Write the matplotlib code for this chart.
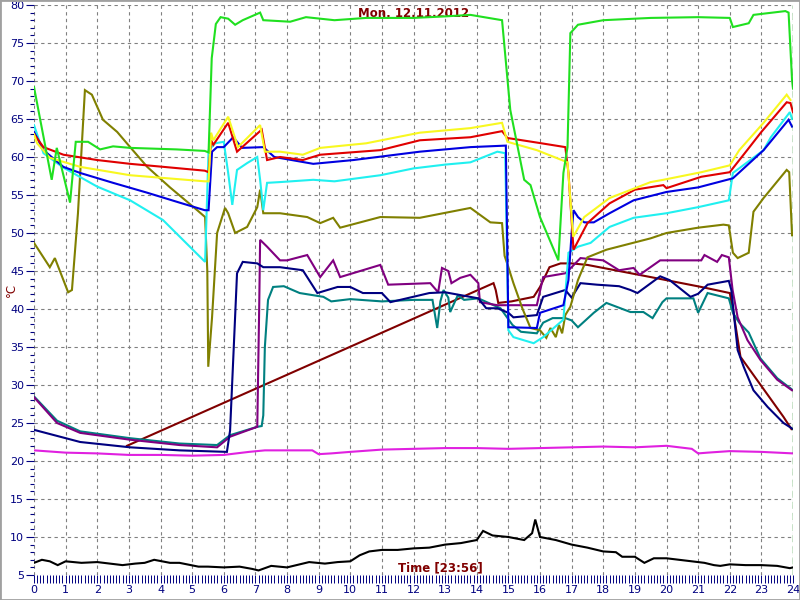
import matplotlib
matplotlib.use("Agg")
import matplotlib.pyplot as plt
from matplotlib.ticker import MultipleLocator
from matplotlib.patches import Rectangle

# --- data (hour, degC) ---
green = [(0, 69.2), (0.56, 57), (0.72, 61.2), (1.14, 54), (1.32, 62), (1.71, 62), (2.09, 61),
         (2.5, 61.4), (3.04, 61.2), (4.5, 61), (5.4, 60.8), (5.52, 60.6), (5.62, 73), (5.75, 77.5),
         (5.9, 78.4), (6.14, 78.2), (6.36, 77.4), (6.6, 78), (7.15, 79), (7.25, 78), (8.1, 77.8),
         (8.6, 78.4), (9.5, 78.0), (10.5, 78.3), (12.0, 78.3), (13.0, 78.5), (13.8, 78.7),
         (14.8, 78.0), (15.06, 66.2), (15.5, 57), (15.7, 56.3), (16.0, 52.1), (16.58, 46.4),
         (16.74, 57.9), (16.87, 61.3), (16.96, 76.3), (17.2, 77.4), (18.0, 78), (19.5, 78.3),
         (21.0, 78.4), (22.0, 78.3), (22.1, 77.1), (22.6, 77.6), (22.75, 78.7), (23.76, 79.2),
         (23.86, 79.0), (23.97, 70.1), (24.0, 69)]

red = [(0, 63), (0.3, 61.3), (0.93, 60.3), (2, 59.6), (3.04, 59.1), (4.1, 58.7), (5.4, 58.2),
       (5.52, 58.0), (5.6, 62.2), (5.67, 61.6), (6.14, 64.5), (6.42, 60.7), (7.2, 63.6),
       (7.37, 59.6), (7.78, 60), (8.5, 59.6), (9.05, 60.3), (9.68, 60.5), (10.95, 60.9),
       (12.2, 62.2), (13.8, 62.6), (14.8, 63.4), (14.97, 62.5), (15.9, 61.9), (16.8, 61.3),
       (16.9, 57.9), (17.06, 47.8), (17.5, 51.3), (18.2, 53.9), (19.0, 55.7), (19.9, 56.3),
       (20.0, 55.9), (21.1, 57.4), (22.0, 58), (22.55, 60.9), (23.0, 63.3), (23.8, 67.2),
       (23.92, 67.1), (24.0, 65.9)]

yellow = [(0, 63), (0.1, 61.8), (0.5, 59.9), (1.46, 58.7), (3.04, 57.6), (5.4, 56.8), (5.52, 56.8),
          (5.6, 63.2), (5.67, 62.2), (6.14, 65.3), (6.45, 61.3), (7.15, 64.2), (7.3, 60.7),
          (7.78, 60.7), (8.5, 60.3), (9.05, 61.2), (10.5, 61.8), (12.2, 63.2), (13.8, 63.8),
          (14.8, 64.5), (14.97, 62), (15.9, 60.9), (16.87, 59.3), (17.05, 49.5), (17.4, 52.1),
          (18.2, 54.6), (19.5, 56.7), (19.9, 57), (21.1, 58), (22.0, 58.9), (22.3, 60.9),
          (23.07, 64.5), (23.8, 68.2), (23.92, 67.5)]

blue = [(0, 63.3), (0.3, 60.9), (0.93, 58.7), (1.46, 57.9), (2.5, 56.6), (3.58, 55.3), (4.6, 54),
        (5.4, 53), (5.52, 53), (5.63, 60.7), (5.79, 61.3), (6.0, 61.3), (6.3, 62.6), (6.58, 61.2),
        (7.25, 61.3), (7.6, 60), (8.83, 59.1), (10.1, 59.6), (12.2, 60.7), (13.8, 61.3),
        (14.92, 61.5), (15.0, 37.6), (15.9, 37.5), (16.0, 39.5), (16.74, 40.5), (16.9, 43.8),
        (17.0, 50), (17.06, 53), (17.2, 52.1), (17.4, 51.4), (17.7, 51.4), (18.2, 52.6),
        (18.96, 54.3), (20.0, 55.4), (21.0, 56), (22.1, 57.2), (23.07, 60.9), (23.86, 64.9),
        (23.97, 64)]

cyan = [(0, 64.2), (0.3, 60.5), (0.93, 58.6), (2, 56.1), (3.04, 54.3), (4.08, 51.7), (5.41, 46.2),
        (5.52, 60.9), (5.73, 61.8), (6.0, 62), (6.14, 57.9), (6.27, 53.7), (6.42, 58.3),
        (6.74, 59.2), (7.06, 60), (7.15, 57), (7.25, 53), (7.37, 56.6), (7.78, 56.7), (8.83, 57),
        (9.5, 56.8), (10.95, 57.6), (12.0, 58.5), (13.0, 59.0), (13.8, 59.3), (14.65, 60.7),
        (14.9, 60.5), (15.0, 37.2), (15.16, 36.3), (15.8, 35.5), (16.1, 36.3), (16.74, 38.6),
        (16.9, 47.4), (17.2, 48.2), (17.6, 48.7), (18.2, 50.8), (18.96, 52), (20.0, 52.6),
        (21.0, 53.4), (21.97, 54.3), (22.1, 57.9), (23.07, 60.9), (23.3, 62.6), (23.9, 65.9),
        (23.97, 65)]

olive = [(0, 48.7), (0.5, 45.5), (0.66, 46.7), (1.08, 42.2), (1.2, 42.5), (1.39, 52.6),
         (1.61, 68.8), (1.83, 68.2), (2.18, 64.9), (2.63, 63.3), (3.04, 61.3), (3.58, 58.7),
         (4.3, 56), (5.16, 53), (5.41, 52.1), (5.48, 45), (5.51, 32.4), (5.63, 38.9), (5.79, 50),
         (6.04, 53.3), (6.14, 52.6), (6.36, 50), (6.74, 50.8), (7.06, 53.4), (7.15, 55.7),
         (7.25, 52.6), (7.78, 52.6), (8.64, 52.1), (9.05, 51.3), (9.46, 52), (9.68, 50.7),
         (10.95, 52.1), (12.2, 52), (13.8, 53.3), (14.43, 51.4), (14.8, 51.3), (14.88, 47),
         (15.0, 45.5), (15.16, 43.4), (15.45, 40), (15.7, 37.5), (16.0, 37.2), (16.2, 36.2),
         (16.33, 37.5), (16.5, 36.3), (16.6, 37.9), (16.7, 36.8), (16.8, 39.2), (16.96, 40.3),
         (17.2, 43.8), (17.5, 46.8), (18.1, 47.8), (19.5, 49.3), (20.0, 50), (21.0, 50.7),
         (21.8, 51.1), (21.97, 51), (22.1, 47.4), (22.25, 46.7), (22.6, 47.4), (22.75, 52.8),
         (23.07, 54.6), (23.8, 58.3), (23.88, 58), (23.97, 49.7)]

purple = [(0, 28.4), (0.73, 25), (1.46, 23.7), (3.04, 22.8), (4.6, 22.1), (5.79, 21.8), (6.2, 23.2),
          (7.06, 24.5), (7.12, 40), (7.15, 49.1), (7.37, 48.2), (7.78, 46.4), (8.0, 46.4),
          (8.64, 47.1), (9.05, 44.2), (9.46, 46.4), (9.68, 44.2), (10.95, 45.8), (11.2, 43.2),
          (12.53, 43.4), (12.78, 42.2), (12.9, 45.4), (13.1, 45), (13.2, 43.4), (13.48, 44.1),
          (13.8, 44.5), (14.05, 43.4), (14.1, 40.9), (14.65, 40.5), (15.9, 40.5), (16.1, 44.2),
          (16.8, 44.7), (17.0, 45.5), (17.28, 46.7), (18.0, 46.4), (18.5, 45.1), (18.96, 45.4),
          (19.15, 44.5), (19.8, 46.4), (21.1, 46.4), (21.2, 47.1), (21.6, 46.2), (21.75, 47.1),
          (21.97, 46.8), (22.09, 42.5), (22.25, 38.9), (22.56, 35.9), (22.97, 33.3), (23.5, 30.7),
          (23.97, 29.3)]

navy = [(0, 24.1), (1.46, 22.5), (3.04, 21.8), (4.6, 21.4), (6.1, 21.2), (6.2, 24), (6.42, 44.7),
        (6.6, 46.2), (7.06, 46), (7.25, 45.5), (7.78, 45.5), (8.5, 45.1), (8.96, 42.1),
        (9.6, 42.9), (10.0, 42.9), (10.4, 42.1), (11.0, 42.1), (11.27, 40.9), (12.5, 42.1),
        (13.0, 42.2), (14.05, 41.4), (14.3, 40.1), (14.65, 40.1), (15.0, 39.5), (15.16, 38.9),
        (15.9, 39.2), (16.1, 41.6), (16.8, 42.5), (17.0, 41.5), (17.28, 43.4), (17.8, 43.2),
        (18.5, 43.0), (18.86, 42.5), (19.08, 42.1), (19.8, 44.3), (20.1, 43.8), (20.76, 41.6),
        (21.0, 42), (21.3, 43.2), (21.97, 43.7), (22.05, 42.5), (22.25, 34.6), (22.44, 32.4),
        (22.75, 29.3), (23.2, 27.1), (23.7, 25), (24.0, 24.2)]

teal = [(0, 28.5), (0.73, 25.3), (1.46, 23.9), (3.04, 23.0), (4.6, 22.3), (5.79, 22.1), (6.2, 23.4),
        (7.06, 24.5), (7.2, 24.6), (7.25, 26), (7.3, 35), (7.4, 41.2), (7.56, 42.9), (7.9, 43),
        (8.4, 42.1), (9.15, 41.6), (9.4, 41.0), (10.0, 41.3), (11.0, 41.0), (12.0, 41.2),
        (12.6, 41.2), (12.75, 37.5), (12.85, 41), (12.95, 42.5), (13.1, 41.5), (13.16, 39.6),
        (13.4, 41.8), (13.6, 41.2), (14.05, 41.4), (14.75, 40.1), (15.13, 37.9), (15.4, 37),
        (15.9, 36.8), (16.1, 38.2), (16.4, 38.8), (16.8, 38.8), (17.0, 38.5), (17.2, 37.6),
        (17.7, 39.5), (18.1, 40.8), (18.86, 39.6), (19.27, 39.6), (19.56, 38.8), (19.87, 40.9),
        (20.0, 41.4), (20.85, 41.4), (21.0, 39.5), (21.3, 42.1), (21.97, 41.4), (22.1, 39.5),
        (22.3, 38.2), (22.6, 36.9), (22.97, 33.5), (23.5, 30.9), (23.97, 29.4)]

maroon = [(2.94, 22.0), (14.53, 43.4), (14.6, 42.5), (14.68, 40.8), (15.1, 41.0), (15.8, 41.6),
          (16.0, 42.9), (16.3, 45.5), (16.65, 46), (17.0, 46), (17.5, 45.8), (19.5, 44.2),
          (21.1, 42.9), (22.0, 42.1), (22.1, 40), (22.34, 33.7), (23.7, 25.8), (23.95, 24.2)]

magenta = [(0, 21.4), (1, 21.1), (2, 21.0), (3, 20.8), (4, 20.8), (5, 20.7), (6, 20.8), (6.8, 21.2),
           (7.3, 21.4), (8.8, 21.4), (9.0, 20.9), (9.4, 21.0), (10, 21.2), (11, 21.5), (12, 21.6),
           (13, 21.7), (14, 21.7), (15, 21.6), (16, 21.7), (17, 21.8), (18, 21.9), (19, 21.8),
           (20, 22.0), (20.8, 21.6), (21.0, 21.0), (21.3, 21.1), (22, 21.3), (23, 21.2), (24, 21.0)]

black = [(0, 6.6), (0.25, 7.0), (0.5, 6.8), (0.75, 6.3), (1.0, 6.8), (1.5, 6.6), (2.0, 6.7),
         (2.4, 6.5), (2.8, 6.3), (3.2, 6.5), (3.5, 6.6), (3.8, 7.0), (4.3, 6.6), (4.6, 6.6),
         (5.2, 6.1), (5.5, 6.1), (6.0, 6.0), (6.5, 6.1), (6.9, 5.8), (7.1, 5.6), (7.5, 6.2),
         (8.0, 6.0), (8.7, 6.7), (9.2, 6.5), (9.6, 6.7), (10.0, 6.8), (10.3, 7.6), (10.6, 8.1),
         (11.0, 8.3), (11.5, 8.3), (12.0, 8.5), (12.5, 8.6), (13.0, 9.0), (13.5, 9.2), (14.0, 9.6),
         (14.2, 10.8), (14.5, 10.2), (15.0, 10.0), (15.5, 9.6), (15.75, 10.5), (15.85, 12.3),
         (16.0, 10.0), (16.5, 9.6), (17.0, 9.0), (17.5, 8.6), (18.0, 8.1), (18.4, 8.0), (18.6, 7.4),
         (19.0, 7.4), (19.3, 6.6), (19.6, 7.2), (20.0, 7.2), (20.4, 7.0), (20.8, 6.8), (21.2, 6.6),
         (21.5, 6.3), (21.7, 6.2), (22.0, 6.4), (22.5, 6.3), (23.0, 6.3), (23.5, 6.2), (23.9, 5.9),
         (24.0, 6.0)]

series = [
    (magenta, "#e020e0"), (black, "#000000"), (maroon, "#800000"), (teal, "#008080"),
    (purple, "#800080"), (navy, "#000080"), (olive, "#808000"), (cyan, "#20f0f0"),
    (blue, "#0000e0"), (red, "#e00000"), (yellow, "#f8f820"), (green, "#20e020"),
]

fig = plt.figure(figsize=(8, 6), dpi=100)
fig.patch.set_facecolor("white")
ax = fig.add_axes([34 / 800, 25 / 600, 759 / 800, 570 / 600])

for pts, col in series:
    xs = [p[0] for p in pts]
    ys = [p[1] for p in pts]
    ax.plot(xs, ys, color=col, lw=1.5, solid_joinstyle="miter", zorder=3)

# end-of-day marker
ax.axvline(24, color="#008000", lw=1, ls=(0, (5, 3)), zorder=4)

ax.set_xlim(0, 24)
ax.set_ylim(5, 80)
ax.xaxis.set_major_locator(MultipleLocator(1))
ax.xaxis.set_minor_locator(MultipleLocator(0.1))
ax.yaxis.set_major_locator(MultipleLocator(5))
ax.yaxis.set_minor_locator(MultipleLocator(1))
ax.grid(True, which="major", color="#808080", lw=0.8, ls=(0, (3, 3)), zorder=1)

for s in ax.spines.values():
    s.set_visible(False)

ax.tick_params(axis="x", which="both", direction="out", length=6, width=0.7, color="#000080",
               labelsize=8, labelcolor="#000080", pad=1)
ax.tick_params(axis="y", which="major", direction="out", length=6, width=0.8, color="#000080",
               labelsize=8, labelcolor="#000080", pad=1)
ax.tick_params(axis="y", which="minor", direction="out", length=3, width=0.8, color="#000080")

ax.text(0.5, 0.985, "Mon, 12.11.2012", transform=ax.transAxes, ha="center", va="center",
        fontsize=8.5, fontweight="bold", color="#800000", zorder=2)
ax.text(0.535, 0.013, "Time [23:56]", transform=ax.transAxes, ha="center", va="center",
        fontsize=8.5, fontweight="bold", color="#800000", zorder=2)
fig.text(11 / 800, 1 - 290 / 600, "°C", rotation=90, ha="center", va="center",
         fontsize=8.5, color="#800000")

fig.patches.append(Rectangle((0, 0), 1, 1, transform=fig.transFigure, fill=False,
                             edgecolor="#a0a0a0", lw=2))

fig.savefig("out.png", dpi=100)
